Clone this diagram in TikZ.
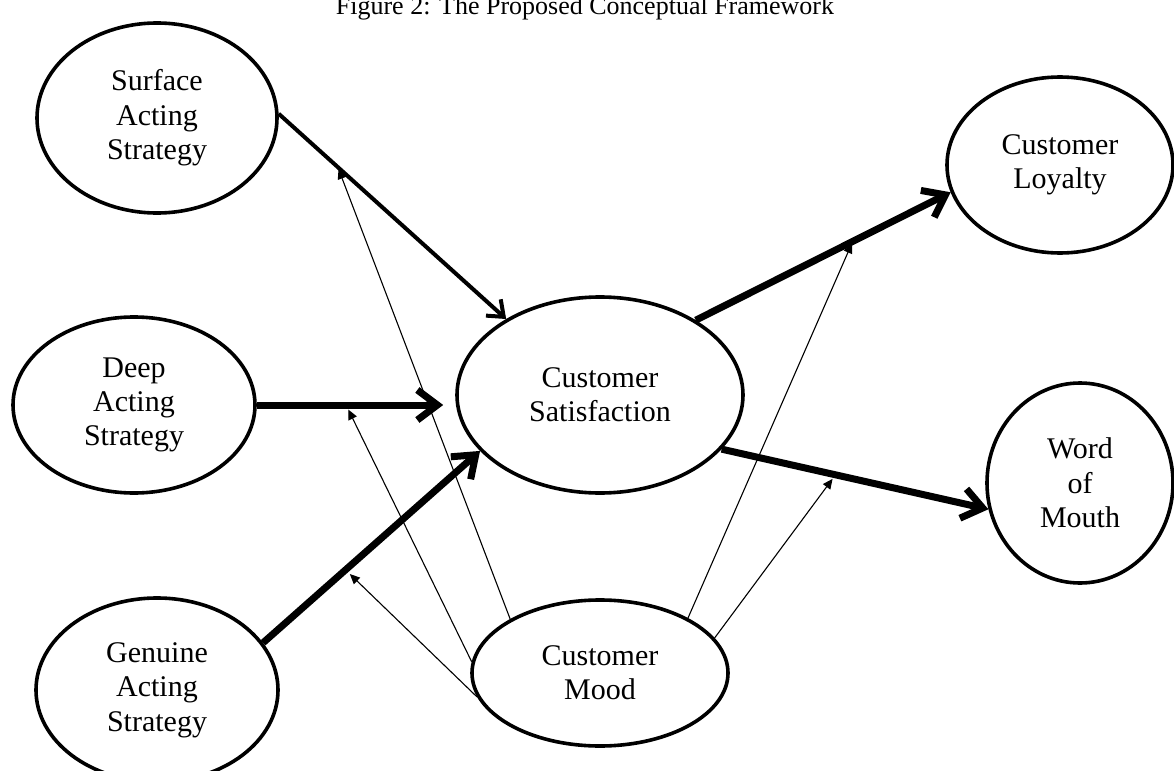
\documentclass[tikz,border=0pt]{standalone}
\usepackage{fontspec}
\setmainfont{Liberation Serif}
\usetikzlibrary{arrows.meta,shapes.geometric}
\begin{document}
\begin{tikzpicture}[x=0.5pt,y=-0.5pt,
  ell/.style={draw, ellipse, line width=1.8pt, inner sep=0pt, align=center,
              font=\fontsize{15}{17.2}\selectfont},
  bigarrow/.style={line width=3.5pt, -{Straight Barb[length=10pt,width=15pt]}},
  midarrow/.style={line width=2pt, -{Straight Barb[length=7pt,width=11pt]}},
  thinarrow/.style={line width=0.55pt, -{Triangle[length=5pt,width=4.5pt]}}
]
\useasboundingbox (0,0) rectangle (1174,771);
\node[anchor=base, font=\fontsize{13}{15}\selectfont] (title) at (585,15)
  {Figure 2: The Proposed Conceptual Framework};

\node[ell, minimum width=120pt, minimum height=95pt] (sas) at (157,118) {Surface\\Acting\\Strategy};
\node[ell, minimum width=121pt, minimum height=88pt] (das) at (134,405) {Deep\\Acting\\Strategy};
\node[ell, minimum width=121pt, minimum height=92pt] (gas) at (157,690) {Genuine\\Acting\\Strategy};
\node[ell, minimum width=143pt, minimum height=98pt] (cs) at (600,395) {Customer\\Satisfaction};
\node[ell, minimum width=113pt, minimum height=88pt] (cl) at (1060,165) {Customer\\Loyalty};
\node[ell, minimum width=93pt, minimum height=100pt] (wom) at (1080,483) {Word\\of\\Mouth};
\node[ell, minimum width=128pt, minimum height=73pt] (cm) at (600,673) {Customer\\Mood};

% main paths
\draw[midarrow] (sas.2) -- coordinate[pos=0.26] (m1) (cs.141);
\draw[bigarrow, shorten >=6pt] (das.east) -- coordinate[pos=0.45] (m2) (das.east -| cs.west);
\draw[bigarrow] (gas.24) -- coordinate[pos=0.38] (m3) (cs.205);
\draw[bigarrow] (cs.38.4) -- coordinate[pos=0.616] (m4) (cl.194);
\draw[bigarrow] (cs.-24.2) -- coordinate[pos=0.427] (m5) (wom.196);

% moderating paths
\draw[thinarrow, shorten >=1pt] (cm.149) -- (m1);
\draw[thinarrow, shorten >=2.5pt] (cm.175) -- (m2);
\draw[thinarrow, shorten >=3pt] (cm.191) -- (m3);
\draw[thinarrow, shorten >=1pt] (cm.32) -- (m4);
\draw[thinarrow, shorten >=2.5pt] (cm.17.4) -- (m5);
\end{tikzpicture}
\end{document}
